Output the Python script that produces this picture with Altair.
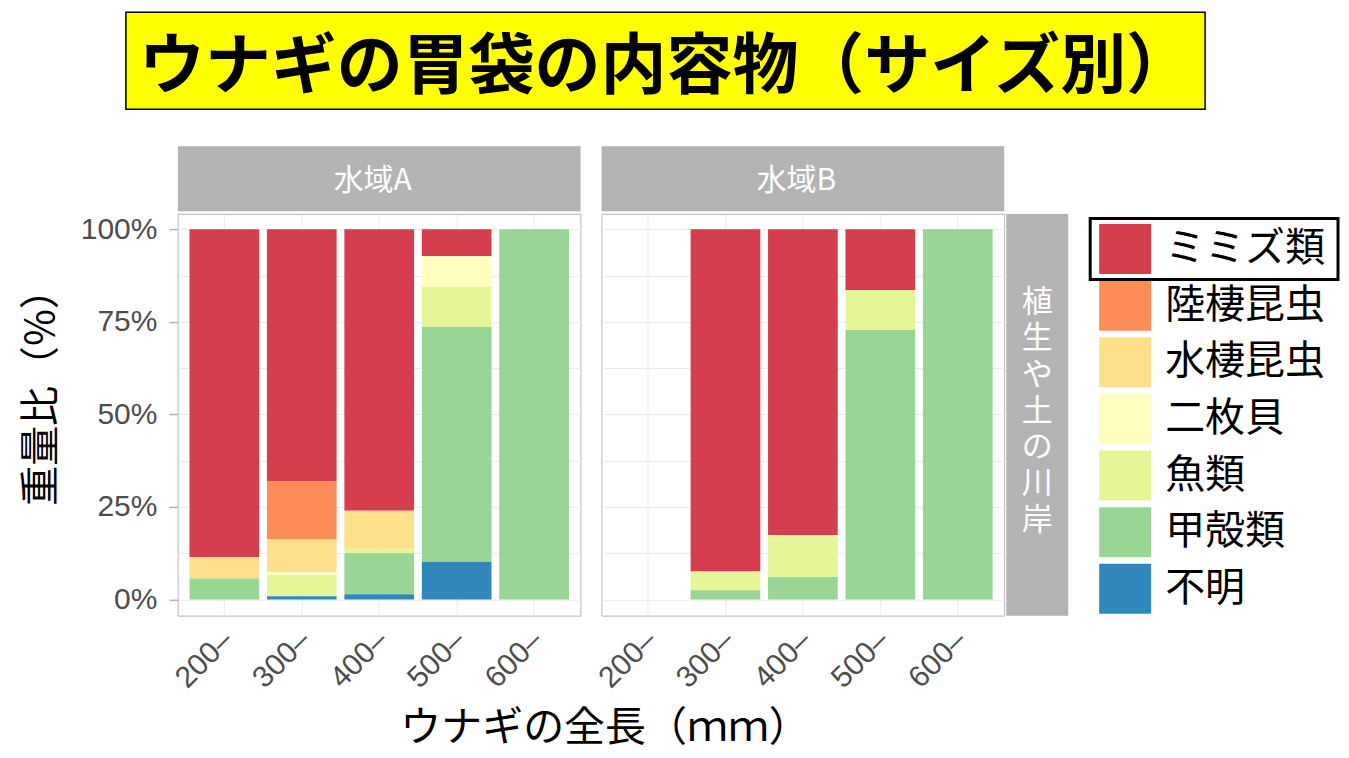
import altair as alt
import pandas as pd

TITLE = "ウナギの胃袋の内容物（サイズ別）"
REGIONS = ["水域A", "水域B"]
ROW_LABEL = "植生や土の川岸"
SIZES = ["200–", "300–", "400–", "500–", "600–"]
CATEGORIES = ["ミミズ類", "陸棲昆虫", "水棲昆虫", "二枚貝", "魚類", "甲殻類", "不明"]
COLORS = ["#d53e4f", "#fc8d59", "#fee08b", "#ffffbf", "#e6f598", "#99d594", "#3288bd"]
X_TITLE = "ウナギの全長（ｍｍ）"
Y_TITLE = "重量比（%）"
Y_TICKS = [0, 25, 50, 75, 100]
Y_GRID = [0, 12.5, 25, 37.5, 50, 62.5, 75, 87.5, 100]

# 水域A (per size class 200-, 300-, 400-, 500-, 600-), percent by weight
A_MIMIZU = [88.6, 68.0, 76.0, 7.2, 0.0]
A_RIKUSEI = [0.0, 15.8, 0.0, 0.0, 0.0]
A_SUISEI = [5.7, 8.8, 10.4, 0.0, 0.0]
A_NIMAIGAI = [0.0, 0.7, 0.0, 8.3, 0.0]
A_GYORUI = [0.0, 5.8, 1.1, 10.8, 0.0]
A_KOUKAKU = [5.7, 0.0, 11.1, 63.5, 100.0]
A_FUMEI = [0.0, 0.9, 1.4, 10.2, 0.0]

# 水域B
B_MIMIZU = [0.0, 92.4, 82.6, 16.4, 0.0]
B_RIKUSEI = [0.0, 0.0, 0.0, 0.0, 0.0]
B_SUISEI = [0.0, 0.0, 0.0, 0.0, 0.0]
B_NIMAIGAI = [0.0, 0.0, 0.0, 0.0, 0.0]
B_GYORUI = [0.0, 5.1, 11.3, 10.8, 0.0]
B_KOUKAKU = [0.0, 2.5, 6.1, 72.8, 100.0]
B_FUMEI = [0.0, 0.0, 0.0, 0.0, 0.0]

A_SERIES = [A_MIMIZU, A_RIKUSEI, A_SUISEI, A_NIMAIGAI, A_GYORUI, A_KOUKAKU, A_FUMEI]
B_SERIES = [B_MIMIZU, B_RIKUSEI, B_SUISEI, B_NIMAIGAI, B_GYORUI, B_KOUKAKU, B_FUMEI]

JP = "Noto Sans CJK JP"
LAT = "Liberation Sans"


def make_rows(region, series_list):
    rows = []
    for cat, vals in zip(CATEGORIES, series_list):
        for size, v in zip(SIZES, vals):
            rows.append({"region": region, "size": size, "cat": cat, "value": v,
                         "ord": len(CATEGORIES) - 1 - CATEGORIES.index(cat)})
    return rows


df = pd.DataFrame(make_rows(REGIONS[0], A_SERIES) + make_rows(REGIONS[1], B_SERIES))

W, H = 403, 402
x_scale = alt.Scale(domain=SIZES, paddingInner=0.1, paddingOuter=0.15)
y_scale = alt.Scale(domain=[-4.4, 104.1], nice=False, zero=False)
color_scale = alt.Scale(domain=CATEGORIES, range=COLORS)


def x_axis(with_title):
    kw = dict(labelAngle=315, labelAlign="right", labelBaseline="top", labelFont=LAT,
              labelFontSize=30, labelColor="#4d4d4d", labelPadding=9, labelOffset=-7,
              ticks=False, domain=False, grid=True, gridColor="#ebebeb", gridWidth=1)
    if with_title:
        kw.update(title=X_TITLE, titleX=427, titleY=113, titleAlign="center",
                  titleBaseline="middle", titleFont=JP, titleFontSize=41,
                  titleFontWeight="normal", titleColor="black", titleAngle=0)
    else:
        kw.update(title=None)
    return alt.Axis(**kw)


grid_axis = alt.Axis(values=Y_GRID, grid=True, gridColor="#ebebeb", gridWidth=1,
                     labels=False, ticks=False, domain=False, title=None, orient="left")

label_axis = alt.Axis(values=Y_TICKS, labelExpr="datum.value + '%'", grid=False,
                      tickSize=9, tickColor="#b3b3b3", tickWidth=1.5, labelPadding=12,
                      labelFont=LAT, labelFontSize=30, labelColor="#4d4d4d",
                      domain=False, orient="left",
                      title=Y_TITLE, titleX=-136, titleY=173, titleAngle=270,
                      titleAlign="center", titleBaseline="middle", titleFont=JP,
                      titleFontSize=40, titleFontWeight="normal", titleColor="black")


def one(text):
    return pd.DataFrame({"t": [text]})


def panel(idx):
    region = REGIONS[idx]
    d = df[df.region == region]
    xa = x_axis(idx == 0)
    grid = alt.Chart(d).mark_point(opacity=0).encode(
        x=alt.X("size:N", scale=x_scale, axis=xa),
        y=alt.Y("value:Q", scale=y_scale, axis=grid_axis),
    )
    bars = alt.Chart(d).mark_bar().encode(
        x=alt.X("size:N", scale=x_scale, axis=xa),
        y=alt.Y("value:Q", stack="zero", scale=y_scale,
                axis=label_axis if idx == 0 else None),
        color=alt.Color("cat:N", scale=color_scale, legend=None),
        order=alt.Order("ord:Q", sort="ascending"),
    )
    strip_rect = alt.Chart(one(region)).mark_rect(color="#b3b3b3").encode(
        x=alt.value(0), x2=alt.value("width"), y=alt.value(-68), y2=alt.value(-3))
    strip_text = alt.Chart(one(region)).mark_text(
        font=JP, fontSize=30, color="white", align="center", baseline="middle").encode(
        text="t:N", x=alt.value(195), y=alt.value(-33))
    layers = [strip_rect, strip_text]
    if idx == 0:
        title_rect = alt.Chart(one(TITLE)).mark_rect(
            fill="#ffff00", stroke="black", strokeWidth=1.5).encode(
            x=alt.value(-52), x2=alt.value(1028), y=alt.value(-202), y2=alt.value(-105))
        title_text = alt.Chart(one(TITLE)).mark_text(
            font=JP, fontSize=66, fontWeight="bold", color="black",
            align="center", baseline="middle").encode(
            text="t:N", x=alt.value(488), y=alt.value(-146))
        layers = [title_rect, title_text] + layers
    else:
        rs_rect = alt.Chart(one(ROW_LABEL)).mark_rect(color="#b3b3b3").encode(
            x=alt.value(405), x2=alt.value(467), y=alt.value(0), y2=alt.value("height"))
        rs_text = alt.Chart(one("\n".join(ROW_LABEL))).mark_text(
            font=JP, fontSize=31, color="white", align="center", baseline="middle",
            lineBreak="\n", lineHeight=36.3).encode(
            text="t:N", x=alt.value(436), y=alt.value(89))
        layers = layers + [rs_rect, rs_text]
    layers = layers + [grid, bars]
    return alt.layer(*layers).resolve_axis(y="independent").properties(width=W, height=H)


leg_df = pd.DataFrame({"cat": CATEGORIES})
ly = alt.Y("cat:N", scale=alt.Scale(domain=CATEGORIES, range=[10, 400],
                                    paddingInner=0.1176, paddingOuter=0), axis=None)
swatch = alt.Chart(leg_df).mark_rect().encode(
    y=ly, x=alt.value(74), x2=alt.value(126),
    color=alt.Color("cat:N", scale=color_scale, legend=None))
leg_text = alt.Chart(leg_df).mark_text(
    align="left", baseline="middle", font=JP, fontSize=40, color="black").encode(
    y=ly, x=alt.value(140), text="cat:N")
box = alt.Chart(leg_df.iloc[:1]).mark_rect(
    height=61, fillOpacity=0, stroke="black", strokeWidth=3).encode(
    y=ly, x=alt.value(65), x2=alt.value(313))
legend = alt.layer(swatch, leg_text, box).properties(
    width=300, height=H, view=alt.ViewBackground(stroke="transparent"))

chart = alt.hconcat(panel(0), panel(1), legend, spacing=21, bounds="flush").properties(
    padding={"left": 13, "top": 2, "right": 0, "bottom": 3}, background="white"
).configure_view(stroke="#c4c4c4", strokeWidth=1.2)

chart.save("out.html", embed_options={"renderer": "svg", "actions": False})
